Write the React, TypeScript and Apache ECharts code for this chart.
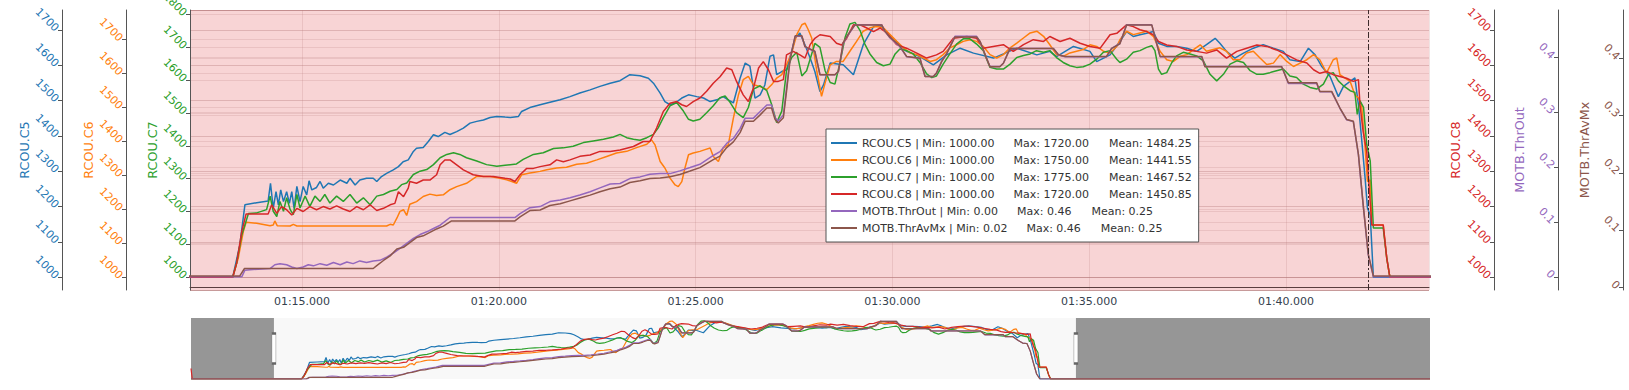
import React, { useEffect, useRef } from 'react';
import * as echarts from 'echarts';

const FONT = 'DejaVu Sans';

const seriesNames = ['RCOU.C5', 'RCOU.C6', 'RCOU.C7', 'RCOU.C8', 'MOTB.ThrOut', 'MOTB.ThrAvMx'];
const seriesColors = ['#1f77b4', '#ff7f0e', '#2ca02c', '#d62728', '#9467bd', '#8c564b'];
const statMin = ['1000.00', '1000.00', '1000.00', '1000.00', '0.00', '0.02'];
const statMax = ['1720.00', '1750.00', '1775.00', '1720.00', '0.46', '0.46'];
const statMean = ['1484.25', '1441.55', '1467.52', '1450.85', '0.25', '0.25'];

// axis ranges (main plot) and overview ranges
const axisMin = [964, 962.5, 961.25, 964, -0.024, -0.0045];
const axisMax = [1756, 1787.5, 1813.75, 1756, 0.486, 0.484];
const overviewMin = [1000, 1000, 1000, 1000, 0, 0.02];
const axisStep = [100, 100, 100, 100, 0.1, 0.1];

// time (seconds)
const dataStart = 68.9;
const dataEnd = 117.53;
const windowStart = 72.155;
const windowEnd = 103.633;
const cursorTime = 102.09;

const c5 = [
  [68.9, 1000], [73.24, 1000], [73.42, 1091], [73.55, 1205], [73.85, 1211], [74.14, 1216], [74.2, 1266], [74.27, 1195],
  [74.34, 1242], [74.4, 1205], [74.46, 1247], [74.53, 1214], [74.61, 1242], [74.68, 1209], [74.74, 1242], [74.8, 1195],
  [74.87, 1257], [74.95, 1214], [75.03, 1257], [75.12, 1233], [75.18, 1273], [75.25, 1247], [75.37, 1254], [75.46, 1271],
  [75.54, 1252], [75.67, 1266], [75.8, 1261], [75.97, 1275], [76.14, 1266], [76.22, 1280], [76.35, 1261], [76.47, 1275],
  [76.64, 1280], [76.81, 1280], [76.9, 1271], [77.02, 1285], [77.15, 1294], [77.32, 1304], [77.45, 1313], [77.57, 1327],
  [77.7, 1332], [77.83, 1356], [77.91, 1365], [78.08, 1367], [78.21, 1384], [78.34, 1403], [78.46, 1398], [78.63, 1410],
  [78.76, 1404], [78.93, 1412], [79.1, 1422], [79.27, 1436], [79.44, 1441], [79.61, 1445], [79.78, 1452], [79.95, 1455],
  [80.16, 1453], [80.29, 1452], [80.5, 1455], [80.58, 1469], [80.79, 1480], [81.05, 1488], [81.3, 1495], [81.56, 1502],
  [81.81, 1511], [82.06, 1521], [82.32, 1530], [82.57, 1540], [82.83, 1549], [83.08, 1556], [83.33, 1573], [83.59, 1570],
  [83.8, 1563], [83.93, 1549], [84.1, 1521], [84.22, 1497], [84.35, 1488], [84.48, 1493], [84.65, 1507], [84.82, 1516],
  [85.03, 1511], [85.2, 1507], [85.37, 1497], [85.54, 1502], [85.7, 1511], [85.83, 1502], [85.96, 1493], [86.13, 1563],
  [86.26, 1606], [86.38, 1597], [86.51, 1507], [86.64, 1516], [86.76, 1544], [86.89, 1625], [86.98, 1629], [87.06, 1573],
  [87.19, 1582], [87.31, 1587], [87.44, 1639], [87.53, 1676], [87.65, 1691], [87.78, 1657], [87.91, 1620], [88.03, 1582],
  [88.16, 1525], [88.25, 1544], [88.42, 1606], [88.75, 1601], [89.01, 1573], [89.26, 1658], [89.52, 1709], [89.69, 1712],
  [90.02, 1676], [90.36, 1639], [90.7, 1624], [91.04, 1601], [91.38, 1629], [91.72, 1648], [92.06, 1634], [92.57, 1620],
  [93.16, 1648], [93.67, 1629], [94.0, 1639], [94.17, 1624], [94.6, 1653], [95.02, 1639], [95.19, 1610], [95.53, 1629],
  [95.78, 1667], [95.95, 1695], [96.12, 1681], [96.29, 1686], [96.46, 1690], [96.63, 1695], [96.76, 1662], [96.97, 1653],
  [97.22, 1653], [97.48, 1648], [97.73, 1639], [97.98, 1658], [98.2, 1676], [98.32, 1662], [98.49, 1639], [98.7, 1620],
  [98.92, 1634], [99.17, 1648], [99.42, 1658], [99.68, 1648], [99.93, 1639], [100.1, 1615], [100.36, 1610], [100.57, 1648],
  [100.74, 1629], [100.91, 1596], [101.12, 1568], [101.33, 1511], [101.46, 1540], [101.63, 1554], [101.75, 1564],
  [101.84, 1488], [101.92, 1393], [102.01, 1280], [102.07, 1195], [102.14, 1176], [102.22, 1000], [117.53, 1000],
];

const c6 = [
  [68.9, 1000], [73.24, 1000], [73.38, 1056], [73.51, 1135], [73.58, 1162], [73.85, 1159], [74.19, 1152], [74.27, 1154],
  [74.31, 1166], [74.37, 1152], [74.7, 1151], [74.78, 1156], [74.87, 1151], [77.15, 1151], [77.24, 1156], [77.32, 1154],
  [77.41, 1174], [77.49, 1194], [77.58, 1199], [77.66, 1182], [77.74, 1215], [77.91, 1223], [78.08, 1238], [78.25, 1245],
  [78.42, 1241], [78.59, 1243], [78.76, 1258], [78.93, 1267], [79.18, 1277], [79.44, 1297], [79.78, 1297], [80.03, 1292],
  [80.2, 1287], [80.33, 1282], [80.45, 1277], [80.58, 1302], [80.79, 1307], [81.05, 1312], [81.22, 1317], [81.47, 1322],
  [81.72, 1324], [81.98, 1333], [82.23, 1336], [82.49, 1346], [82.74, 1356], [82.99, 1366], [83.25, 1371], [83.5, 1382],
  [83.76, 1392], [83.88, 1405], [83.97, 1390], [84.1, 1341], [84.22, 1322], [84.35, 1292], [84.48, 1272], [84.56, 1267],
  [84.65, 1282], [84.73, 1322], [84.82, 1361], [84.94, 1366], [85.11, 1371], [85.24, 1376], [85.37, 1381], [85.45, 1356],
  [85.58, 1341], [85.7, 1381], [85.83, 1390], [85.96, 1469], [86.09, 1538], [86.21, 1582], [86.34, 1592], [86.47, 1567],
  [86.64, 1562], [86.81, 1553], [86.93, 1567], [87.06, 1587], [87.19, 1597], [87.31, 1626], [87.44, 1661], [87.57, 1715],
  [87.7, 1744], [87.78, 1749], [87.86, 1730], [87.95, 1705], [88.08, 1607], [88.2, 1533], [88.29, 1572], [88.42, 1626],
  [88.58, 1636], [88.75, 1636], [88.92, 1666], [89.09, 1695], [89.26, 1725], [89.43, 1735], [89.6, 1739], [89.77, 1735],
  [89.94, 1715], [90.11, 1695], [90.28, 1676], [90.45, 1661], [90.62, 1656], [90.79, 1646], [90.96, 1636], [91.12, 1641],
  [91.29, 1656], [91.46, 1676], [91.63, 1685], [91.8, 1695], [91.97, 1700], [92.14, 1695], [92.31, 1680], [92.48, 1656],
  [92.65, 1646], [92.82, 1656], [92.99, 1676], [93.16, 1690], [93.33, 1705], [93.5, 1720], [93.67, 1725], [93.84, 1710],
  [94.0, 1685], [94.17, 1656], [94.34, 1651], [94.51, 1661], [94.68, 1666], [94.85, 1671], [95.02, 1685], [95.19, 1680],
  [95.36, 1666], [95.53, 1661], [95.7, 1680], [95.78, 1700], [95.95, 1725], [96.12, 1715], [96.29, 1720], [96.46, 1725],
  [96.63, 1710], [96.8, 1666], [96.97, 1641], [97.14, 1636], [97.31, 1651], [97.48, 1656], [97.65, 1671], [97.82, 1685],
  [97.98, 1666], [98.15, 1671], [98.32, 1676], [98.49, 1666], [98.66, 1641], [98.83, 1641], [99.0, 1661], [99.17, 1666],
  [99.34, 1646], [99.51, 1627], [99.68, 1631], [99.85, 1656], [100.02, 1636], [100.19, 1621], [100.36, 1631],
  [100.53, 1641], [100.7, 1656], [100.86, 1641], [101.03, 1602], [101.2, 1641], [101.29, 1646], [101.37, 1597],
  [101.5, 1587], [101.63, 1577], [101.75, 1538], [101.84, 1528], [101.92, 1508], [102.01, 1381], [102.07, 1282],
  [102.14, 1287], [102.18, 1154], [102.47, 1154], [102.56, 1056], [102.64, 1000], [117.53, 1000],
];

const c7 = [
  [68.9, 1000], [73.24, 1000], [73.34, 1043], [73.47, 1129], [73.64, 1194], [73.85, 1196], [74.1, 1206], [74.19, 1247],
  [74.27, 1201], [74.36, 1185], [74.44, 1231], [74.53, 1201], [74.61, 1242], [74.7, 1206], [74.78, 1191], [74.87, 1252],
  [74.95, 1211], [75.08, 1247], [75.2, 1216], [75.33, 1247], [75.46, 1231], [75.58, 1252], [75.71, 1226], [75.88, 1247],
  [76.05, 1231], [76.22, 1252], [76.39, 1226], [76.56, 1242], [76.73, 1221], [76.9, 1247], [77.07, 1252], [77.24, 1262],
  [77.41, 1267], [77.53, 1282], [77.66, 1287], [77.83, 1313], [78.0, 1323], [78.17, 1328], [78.34, 1343], [78.51, 1364],
  [78.68, 1374], [78.85, 1379], [79.01, 1374], [79.18, 1364], [79.44, 1354], [79.69, 1343], [79.95, 1338], [80.16, 1341],
  [80.45, 1345], [80.62, 1359], [80.88, 1374], [81.13, 1379], [81.39, 1392], [81.64, 1394], [81.89, 1399], [82.15, 1410],
  [82.4, 1415], [82.66, 1420], [82.91, 1427], [83.08, 1435], [83.25, 1425], [83.42, 1420], [83.59, 1417], [83.76, 1425],
  [83.93, 1435], [84.05, 1455], [84.18, 1486], [84.35, 1522], [84.52, 1532], [84.69, 1506], [84.82, 1481], [84.94, 1476],
  [85.11, 1481], [85.28, 1501], [85.45, 1522], [85.62, 1547], [85.75, 1552], [85.88, 1532], [86.04, 1501], [86.21, 1486],
  [86.34, 1517], [86.47, 1573], [86.64, 1583], [86.81, 1568], [86.93, 1527], [87.06, 1471], [87.19, 1506], [87.31, 1629],
  [87.44, 1669], [87.57, 1685], [87.7, 1613], [87.82, 1629], [87.95, 1680], [88.03, 1712], [88.16, 1700], [88.29, 1629],
  [88.42, 1593], [88.54, 1588], [88.67, 1654], [88.8, 1731], [88.92, 1771], [89.05, 1776], [89.18, 1751], [89.3, 1710],
  [89.43, 1680], [89.6, 1654], [89.77, 1644], [89.94, 1649], [90.07, 1680], [90.19, 1695], [90.36, 1690], [90.53, 1680],
  [90.7, 1654], [90.87, 1619], [91.0, 1608], [91.12, 1613], [91.29, 1649], [91.46, 1680], [91.63, 1710], [91.8, 1726],
  [91.97, 1726], [92.14, 1710], [92.31, 1690], [92.48, 1639], [92.65, 1634], [92.82, 1634], [92.99, 1649], [93.16, 1669],
  [93.33, 1675], [93.5, 1680], [93.66, 1690], [93.84, 1685], [94.0, 1690], [94.17, 1669], [94.34, 1654], [94.51, 1644],
  [94.68, 1639], [94.85, 1641], [95.02, 1649], [95.19, 1664], [95.36, 1685], [95.53, 1690], [95.7, 1664], [95.78, 1654],
  [95.95, 1664], [96.12, 1685], [96.29, 1690], [96.46, 1700], [96.59, 1705], [96.67, 1690], [96.76, 1634], [96.84, 1618],
  [96.97, 1623], [97.1, 1654], [97.22, 1674], [97.39, 1685], [97.56, 1680], [97.73, 1674], [97.9, 1659], [98.07, 1618],
  [98.24, 1598], [98.41, 1618], [98.58, 1649], [98.75, 1659], [98.92, 1654], [99.09, 1629], [99.26, 1618], [99.42, 1618],
  [99.59, 1623], [99.76, 1629], [99.93, 1634], [100.1, 1613], [100.27, 1608], [100.44, 1588], [100.61, 1578],
  [100.78, 1573], [100.95, 1588], [101.08, 1618], [101.2, 1623], [101.33, 1598], [101.46, 1583], [101.63, 1568],
  [101.75, 1563], [101.81, 1496], [101.88, 1537], [101.97, 1517], [102.05, 1405], [102.14, 1354], [102.22, 1150],
  [102.47, 1150], [102.56, 1058], [102.64, 1000], [117.53, 1000],
];

const c8 = [
  [68.9, 1130], [68.95, 1000], [73.24, 1000], [73.34, 1040], [73.47, 1129], [73.58, 1179], [74.14, 1179], [74.23, 1205],
  [74.36, 1181], [74.48, 1200], [74.61, 1191], [74.74, 1176], [74.87, 1195], [75.03, 1186], [75.2, 1200], [75.37, 1191],
  [75.54, 1200], [75.71, 1193], [75.88, 1202], [76.05, 1193], [76.22, 1186], [76.39, 1200], [76.56, 1191], [76.73, 1205],
  [76.9, 1189], [77.07, 1195], [77.24, 1205], [77.36, 1209], [77.45, 1242], [77.58, 1228], [77.7, 1252], [77.74, 1271],
  [77.91, 1266], [78.08, 1275], [78.25, 1275], [78.42, 1290], [78.51, 1318], [78.63, 1332], [78.76, 1332], [78.93, 1318],
  [79.1, 1304], [79.35, 1290], [79.61, 1285], [79.86, 1285], [80.16, 1280], [80.29, 1278], [80.41, 1271], [80.54, 1290],
  [80.71, 1308], [80.88, 1308], [81.05, 1313], [81.3, 1318], [81.47, 1332], [81.64, 1327], [81.81, 1332], [82.06, 1342],
  [82.32, 1346], [82.57, 1356], [82.83, 1356], [83.08, 1360], [83.25, 1365], [83.42, 1370], [83.67, 1384], [83.84, 1384],
  [84.01, 1422], [84.18, 1469], [84.35, 1492], [84.52, 1497], [84.65, 1488], [84.77, 1483], [84.94, 1497], [85.11, 1507],
  [85.28, 1526], [85.45, 1549], [85.62, 1567], [85.79, 1592], [85.92, 1587], [86.04, 1554], [86.21, 1516], [86.34, 1497],
  [86.47, 1535], [86.6, 1592], [86.72, 1610], [86.85, 1587], [86.98, 1554], [87.1, 1554], [87.23, 1559], [87.31, 1629],
  [87.48, 1639], [87.65, 1629], [87.78, 1620], [87.91, 1658], [88.03, 1676], [88.16, 1686], [88.42, 1681], [88.58, 1662],
  [88.71, 1657], [88.84, 1676], [89.01, 1714], [89.18, 1714], [89.35, 1705], [89.52, 1695], [89.69, 1705], [89.86, 1691],
  [90.11, 1658], [90.36, 1648], [90.62, 1634], [90.87, 1620], [91.12, 1629], [91.29, 1639], [91.55, 1676], [91.89, 1681],
  [92.14, 1676], [92.31, 1648], [92.56, 1653], [92.82, 1658], [93.07, 1639], [93.33, 1658], [93.58, 1672], [93.84, 1667],
  [94.0, 1681], [94.26, 1667], [94.51, 1676], [94.77, 1662], [95.02, 1653], [95.28, 1648], [95.53, 1686], [95.7, 1690],
  [95.95, 1714], [96.12, 1709], [96.29, 1700], [96.46, 1695], [96.63, 1686], [96.76, 1667], [96.97, 1657], [97.22, 1653],
  [97.48, 1643], [97.73, 1639], [97.98, 1634], [98.24, 1643], [98.49, 1620], [98.75, 1639], [99.0, 1648], [99.26, 1657],
  [99.51, 1653], [99.76, 1643], [100.02, 1629], [100.27, 1615], [100.53, 1606], [100.7, 1587], [100.86, 1577],
  [101.03, 1582], [101.2, 1573], [101.37, 1568], [101.54, 1563], [101.71, 1554], [101.84, 1559], [101.88, 1488],
  [101.96, 1412], [102.05, 1356], [102.12, 1242], [102.18, 1148], [102.47, 1148], [102.56, 1054], [102.64, 1000],
  [117.53, 1000],
];

const thrOut = [
  [68.9, 0], [73.47, 0], [73.55, 0.012], [73.68, 0.013], [74.19, 0.015], [74.31, 0.022], [74.44, 0.024], [74.61, 0.022],
  [74.74, 0.018], [74.87, 0.015], [75.03, 0.018], [75.16, 0.022], [75.29, 0.02], [75.46, 0.024], [75.63, 0.021],
  [75.8, 0.026], [75.97, 0.022], [76.14, 0.027], [76.3, 0.024], [76.47, 0.029], [76.64, 0.026], [76.81, 0.029],
  [76.98, 0.03], [77.15, 0.036], [77.32, 0.043], [77.49, 0.052], [77.66, 0.061], [77.83, 0.07], [78.0, 0.077],
  [78.17, 0.082], [78.34, 0.088], [78.51, 0.094], [78.76, 0.108], [80.41, 0.108], [80.54, 0.115], [80.79, 0.126],
  [81.05, 0.128], [81.3, 0.137], [81.56, 0.14], [81.81, 0.144], [82.06, 0.149], [82.32, 0.155], [82.57, 0.162],
  [82.83, 0.169], [83.08, 0.17], [83.33, 0.179], [83.59, 0.182], [83.84, 0.187], [84.1, 0.188], [84.35, 0.188],
  [84.6, 0.193], [84.86, 0.199], [85.11, 0.205], [85.28, 0.213], [85.45, 0.221], [85.62, 0.228], [85.79, 0.243],
  [85.96, 0.252], [86.13, 0.27], [86.26, 0.289], [86.47, 0.289], [86.64, 0.301], [86.81, 0.313], [86.93, 0.313],
  [87.02, 0.289], [87.1, 0.284], [87.23, 0.295], [87.31, 0.343], [87.4, 0.398], [87.53, 0.438], [87.7, 0.438],
  [87.78, 0.419], [88.03, 0.41], [88.16, 0.368], [88.54, 0.368], [88.63, 0.374], [88.75, 0.425], [88.88, 0.441],
  [89.05, 0.459], [89.73, 0.459], [89.81, 0.447], [89.94, 0.435], [90.15, 0.422], [90.19, 0.419], [90.36, 0.401],
  [90.7, 0.398], [90.83, 0.365], [91.04, 0.365], [91.12, 0.371], [91.25, 0.392], [91.38, 0.407], [91.59, 0.438],
  [92.14, 0.438], [92.23, 0.428], [92.39, 0.398], [92.48, 0.383], [92.73, 0.383], [92.82, 0.389], [92.99, 0.416],
  [94.09, 0.416], [94.22, 0.404], [94.39, 0.401], [95.44, 0.401], [95.57, 0.416], [95.78, 0.425], [95.95, 0.459],
  [96.59, 0.459], [96.8, 0.401], [97.86, 0.401], [97.94, 0.383], [99.89, 0.383], [100.06, 0.352], [100.78, 0.352],
  [100.86, 0.337], [101.16, 0.337], [101.37, 0.307], [101.54, 0.286], [101.71, 0.283], [101.84, 0.222], [101.96, 0.131],
  [102.09, 0.04], [102.22, 0], [117.53, 0],
];

const thrAvMx = [
  [68.9, 0.02], [73.42, 0.02], [73.54, 0.033], [76.81, 0.033], [76.9, 0.038], [77.07, 0.047], [77.24, 0.055],
  [77.41, 0.067], [77.58, 0.07], [77.74, 0.078], [77.91, 0.087], [78.08, 0.09], [78.25, 0.096], [78.42, 0.102],
  [78.59, 0.107], [78.8, 0.116], [80.41, 0.116], [80.54, 0.123], [80.79, 0.134], [81.05, 0.135], [81.3, 0.143],
  [81.56, 0.146], [81.81, 0.151], [82.06, 0.156], [82.32, 0.161], [82.57, 0.167], [82.83, 0.172], [83.08, 0.175],
  [83.33, 0.183], [83.59, 0.186], [83.84, 0.19], [84.1, 0.191], [84.35, 0.193], [84.6, 0.197], [84.86, 0.203],
  [85.11, 0.209], [85.28, 0.216], [85.45, 0.223], [85.62, 0.229], [85.79, 0.244], [85.96, 0.254], [86.13, 0.27],
  [86.26, 0.29], [86.47, 0.29], [86.64, 0.301], [86.81, 0.313], [86.93, 0.313], [87.02, 0.293], [87.1, 0.287],
  [87.23, 0.296], [87.31, 0.342], [87.4, 0.397], [87.53, 0.439], [87.7, 0.439], [87.78, 0.42], [88.03, 0.412],
  [88.16, 0.371], [88.54, 0.371], [88.63, 0.377], [88.75, 0.427], [88.88, 0.442], [89.05, 0.458], [89.73, 0.458],
  [89.81, 0.447], [89.94, 0.436], [90.15, 0.424], [90.19, 0.421], [90.36, 0.403], [90.7, 0.4], [90.83, 0.368],
  [91.04, 0.368], [91.12, 0.374], [91.25, 0.394], [91.38, 0.408], [91.59, 0.437], [92.14, 0.437], [92.23, 0.429],
  [92.39, 0.4], [92.48, 0.385], [92.73, 0.385], [92.82, 0.391], [92.99, 0.417], [94.09, 0.417], [94.22, 0.406],
  [94.39, 0.403], [95.44, 0.403], [95.57, 0.417], [95.78, 0.425], [95.95, 0.458], [96.59, 0.458], [96.8, 0.403],
  [97.86, 0.403], [97.94, 0.385], [99.89, 0.385], [100.06, 0.357], [100.78, 0.357], [100.86, 0.342], [101.16, 0.342],
  [101.37, 0.313], [101.54, 0.293], [101.71, 0.29], [101.84, 0.232], [101.96, 0.145], [102.09, 0.058], [102.22, 0.02],
  [117.53, 0.02],
];

const seriesData = [c5, c6, c7, c8, thrOut, thrAvMx];

const axisSide = ['left', 'left', 'left', 'right', 'right', 'right'];
const axisOffset = [128, 64, 0, 65, 129, 194];

function fmtTime(v: number): string {
  const ms = Math.round(v * 1000);
  const m = Math.floor(ms / 60000);
  const s = (ms - m * 60000) / 1000;
  return `${String(m).padStart(2, '0')}:${s.toFixed(3).padStart(6, '0')}`;
}

function fmtNum(v: number): string {
  return String(parseFloat(v.toFixed(4)));
}

export default function App() {
  const ref = useRef<HTMLDivElement>(null);

  useEffect(() => {
    if (!ref.current) return;
    const chart = echarts.init(ref.current, undefined, { renderer: 'svg' });

    const gridLine = 'rgba(180,120,120,0.2)';

    const mainY = seriesNames.map((name, i) => {
      const right = axisSide[i] === 'right';
      return {
        type: 'value',
        gridIndex: 0,
        position: axisSide[i],
        offset: axisOffset[i],
        min: axisMin[i],
        max: axisMax[i],
        splitNumber: 8,
        minInterval: axisStep[i],
        maxInterval: axisStep[i],
        name,
        nameLocation: 'middle',
        nameGap: right ? -45 : 31,
        nameMoveOverlap: false,
        nameTextStyle: { color: seriesColors[i], fontSize: 12.7, fontFamily: FONT },
        axisLine: { show: true, onZero: false, lineStyle: { color: '#555', width: 1 } },
        axisTick: { show: true, inside: right, length: 4, lineStyle: { color: '#555' } },
        axisLabel: {
          color: seriesColors[i],
          fontSize: 11,
          fontFamily: FONT,
          rotate: -45,
          margin: 5,
          inside: right,
          showMinLabel: false,
          showMaxLabel: false,
          formatter: (v: number) => fmtNum(v),
        },
        splitLine: { show: true, lineStyle: { color: gridLine, width: 1 } },
      };
    });

    const overviewY = seriesNames.map((_, i) => ({
      type: 'value',
      gridIndex: 1,
      show: false,
      min: overviewMin[i],
      max: axisMax[i],
      splitLine: { show: false },
    }));

    const mainSeries = seriesNames.map((name, i) => ({
      name,
      type: 'line',
      xAxisIndex: 0,
      yAxisIndex: i,
      data: seriesData[i],
      symbol: 'none',
      silent: true,
      lineStyle: { width: 1.5, color: seriesColors[i] },
      itemStyle: { color: seriesColors[i] },
      ...(i === 0
        ? {
            markLine: {
              silent: true,
              symbol: ['none', 'none'],
              label: { show: false },
              lineStyle: { color: '#3d2b2b', type: [6, 2, 2, 2], width: 1 },
              data: [{ xAxis: cursorTime }],
            },
          }
        : {}),
    }));

    const handleLevel = (overviewMin[0] + axisMax[0]) / 2;

    const overviewSeries = seriesNames.map((name, i) => ({
      name,
      type: 'line',
      xAxisIndex: 1,
      yAxisIndex: 6 + i,
      data: seriesData[i],
      symbol: 'none',
      silent: true,
      lineStyle: { width: 1.2, color: seriesColors[i] },
      itemStyle: { color: seriesColors[i] },
      ...(i === 0
        ? {
            markArea: {
              silent: true,
              itemStyle: { color: '#969696', opacity: 1 },
              data: [
                [{ xAxis: dataStart }, { xAxis: windowStart }],
                [{ xAxis: windowEnd }, { xAxis: dataEnd }],
              ],
            },
            markPoint: {
              silent: true,
              symbol: 'rect',
              symbolSize: [4, 30],
              itemStyle: { color: '#ffffff', borderColor: '#666', borderWidth: 1 },
              label: { show: false },
              data: [{ coord: [windowStart, handleLevel] }, { coord: [windowEnd, handleLevel] }],
            },
          }
        : {}),
    }));

    chart.setOption({
      animation: false,
      textStyle: { fontFamily: FONT },
      grid: [
        {
          left: 190, right: 200, top: 10, bottom: 100,
          show: true, backgroundColor: '#f8d4d5', borderWidth: 0,
          containLabel: false, outerBoundsMode: 'none',
        },
        {
          left: 191, width: 1239, top: 318, height: 61,
          show: true, backgroundColor: '#f8f8f8', borderWidth: 0,
          containLabel: false, outerBoundsMode: 'none',
        },
      ],
      xAxis: [
        {
          type: 'value',
          gridIndex: 0,
          min: windowStart,
          max: windowEnd,
          splitNumber: 6,
          minInterval: 5,
          maxInterval: 5,
          axisLine: { show: true, onZero: true, onZeroAxisIndex: 5, lineStyle: { color: '#5a3e3e', width: 1 } },
          axisTick: { show: false },
          axisLabel: {
            color: '#34414e', fontSize: 11, fontFamily: FONT, margin: 6,
            showMinLabel: false, showMaxLabel: false,
            formatter: (v: number) => fmtTime(v),
          },
          splitLine: { show: true, lineStyle: { color: gridLine, width: 1 } },
        },
        {
          type: 'value',
          gridIndex: 1,
          min: dataStart,
          max: dataEnd,
          show: false,
          splitLine: { show: false },
        },
      ],
      yAxis: [...mainY, ...overviewY],
      legend: {
        data: seriesNames,
        orient: 'vertical',
        left: 826,
        top: 129,
        padding: [7, 7, 7, 5],
        icon: 'rect',
        itemWidth: 26,
        itemHeight: 2,
        itemGap: 3,
        backgroundColor: '#ffffff',
        borderColor: '#555',
        borderWidth: 1,
        selectedMode: false,
        textStyle: {
          fontSize: 11,
          color: '#333',
          fontFamily: FONT,
          lineHeight: 14,
          rich: { g: { width: 19 }, h: { width: 20 } },
        },
        formatter: (name: string) => {
          const i = seriesNames.indexOf(name);
          return `${name} | Min: ${statMin[i]}{g| }Max: ${statMax[i]}{h| }Mean: ${statMean[i]}`;
        },
      },
      series: [...mainSeries, ...overviewSeries],
    });

    return () => chart.dispose();
  }, []);

  return (
    <div
      ref={ref}
      style={{ position: 'fixed', left: 0, top: 0, width: 1629, height: 390, background: '#fff' }}
    />
  );
}
